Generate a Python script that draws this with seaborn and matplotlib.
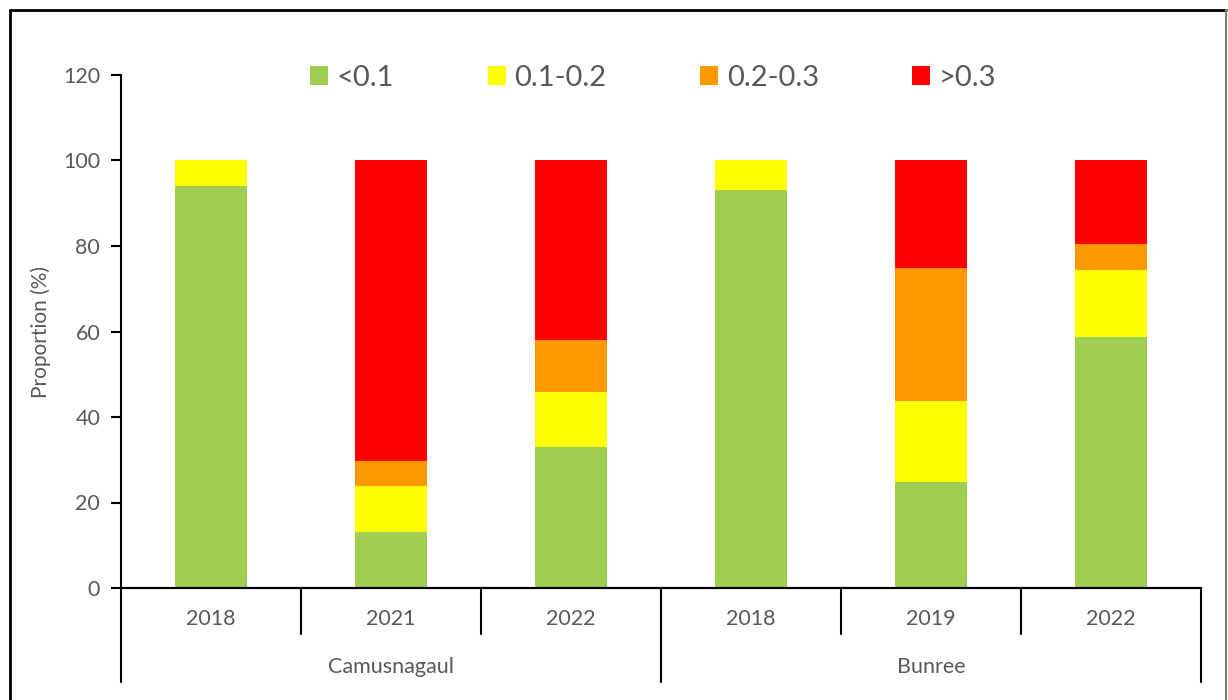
import numpy as np
import pandas as pd
import matplotlib
matplotlib.use("Agg")
import matplotlib.pyplot as plt
import matplotlib.transforms as mtransforms
from matplotlib.patches import Patch
from matplotlib.lines import Line2D
import seaborn as sns

# ---- data ----
sites = ["Camusnagaul", "Camusnagaul", "Camusnagaul", "Bunree", "Bunree", "Bunree"]
years = ["2018", "2021", "2022", "2018", "2019", "2022"]
classes = ["<0.1", "0.1-0.2", "0.2-0.3", ">0.3"]
lt01 = [94.0, 13.1, 32.9, 93.2, 24.8, 58.6]
b01_02 = [6.0, 10.7, 12.9, 6.8, 18.9, 15.7]
b02_03 = [0.0, 5.9, 12.1, 0.0, 31.1, 6.1]
gt03 = [0.0, 70.3, 42.1, 0.0, 25.2, 19.6]
colors = ["#A0CE52", "#FFFF00", "#FF9900", "#FF0000"]

sns.set_theme(style="white")
plt.rcParams["font.family"] = ["Lato", "DejaVu Sans"]
txt = "#595959"

labels = [f"{s} {y}" for s, y in zip(sites, years)]
series = [lt01, b01_02, b02_03, gt03]
cum = np.cumsum(np.array(series), axis=0)

fig = plt.figure(figsize=(12.28, 7.0), dpi=100)
ax = fig.add_axes([121 / 1228, 1 - 588 / 700, (1201 - 121) / 1228, (588 - 75) / 700])

# draw cumulative levels from top to bottom
for i in range(len(classes) - 1, -1, -1):
    df = pd.DataFrame({"label": labels, "value": cum[i]})
    sns.barplot(data=df, x="label", y="value", order=labels, color=colors[i],
                width=0.4, saturation=1, ax=ax, linewidth=0, errorbar=None)

ax.set_xlim(-0.5, len(labels) - 0.5)
ax.set_ylim(0, 120)
ax.set_yticks(np.arange(0, 121, 20))
ax.set_xlabel("")
ax.set_ylabel("Proportion (%)", fontsize=15, color=txt, labelpad=9)
ax.tick_params(axis="y", length=7, width=1.5, color="black", labelsize=15.5,
               labelcolor=txt, pad=8, left=True, direction="out")
ax.set_xticks(range(len(labels)))
ax.set_xticklabels(years)
ax.tick_params(axis="x", length=0, labelsize=15.5, labelcolor=txt, pad=15)
for s in ["top", "right"]:
    ax.spines[s].set_visible(False)
for s in ["left", "bottom"]:
    ax.spines[s].set_color("black")
    ax.spines[s].set_linewidth(1.5)

# multi-level category separators
trans = mtransforms.blended_transform_factory(ax.transData, ax.transAxes)
short = 46 / 513
long_ = 94 / 513
for k in range(len(labels) + 1):
    xb = k - 0.5
    depth = long_ if k in (0, 3, 6) else short
    ax.add_line(Line2D([xb, xb], [0, -depth], transform=trans, color="black",
                       lw=1.5, clip_on=False))
ax.add_line(Line2D([-0.5, len(labels) - 0.5], [0, 0], transform=trans,
                   color="black", lw=1.5, clip_on=False))
for name, center in [("Camusnagaul", 1.0), ("Bunree", 4.0)]:
    ax.text(center, -79 / 513, name, transform=trans, ha="center", va="center",
            fontsize=15.5, color=txt)

# legend
handles = [Patch(facecolor=c, edgecolor="none") for c in colors]
fig.legend(handles, classes, loc="center", bbox_to_anchor=(0.532, 1 - 78 / 700),
           ncol=4, frameon=False, fontsize=21, labelcolor=txt,
           handlelength=0.62, handleheight=0.62, handletextpad=0.3,
           columnspacing=3.2)

# outer chart frame
fig.add_artist(Line2D([10 / 1228, 10 / 1228], [0, 1 - 10 / 700], transform=fig.transFigure,
                      color="black", lw=2))
fig.add_artist(Line2D([10 / 1228, 1226 / 1228], [1 - 10 / 700, 1 - 10 / 700],
                      transform=fig.transFigure, color="black", lw=2))
fig.add_artist(Line2D([1226 / 1228, 1226 / 1228], [0, 1 - 10 / 700], transform=fig.transFigure,
                      color="#7f7f7f", lw=1.5))

fig.savefig("out.png", dpi=100)
